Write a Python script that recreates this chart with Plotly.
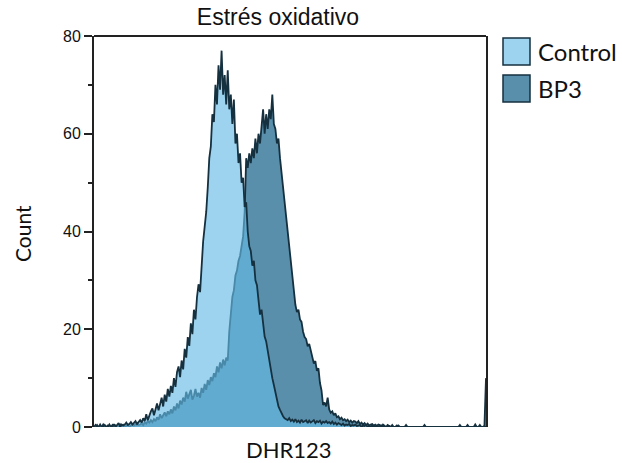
import numpy as np
import plotly.graph_objects as go

# Fluorescence channel histogram counts (256 channels), DHR123
control_counts = [
    0, 0.4, 0, 0, 0.5, 0, 0, 0.4, 0, 0,
    0.5, 0, 0, 0.6, 0, 0.4, 0.8, 0, 0.5, 0.3,
    0.5, 0.9, 0.4, 0.6, 1.0, 0.5, 0.8, 1.2, 0.6, 1.0,
    1.4, 0.9, 1.8, 1.2, 2.6, 1.4, 2.4, 3.2, 3.8, 2.4,
    3.6, 4.8, 3.4, 4.8, 6.0, 4.2, 6.6, 5.2, 7.8, 6.2,
    8.4, 7.0, 10.0, 8.2, 11.2, 12.4, 10.2, 13.6, 11.8, 16.0,
    14.2, 18.4, 16.6, 21.2, 19.0, 24.0, 22.0, 26.6, 29.2, 27.6,
    34.0, 38.0, 41.0, 44.0, 49.0, 55.0, 57.4, 64.0, 62.4, 70.0,
    66.0, 74.0, 69.0, 77.0, 68.0, 72.0, 66.0, 73.0, 65.0, 68.0,
    62.0, 67.0, 58.0, 60.0, 54.0, 56.0, 50.0, 51.0, 45.0, 46.0,
    40.0, 37.0, 36.0, 33.0, 34.0, 30.0, 29.0, 26.0, 23.0, 24.0,
    21.0, 18.5, 17.5, 15.5, 13.5, 12.0, 10.0, 8.6, 7.0, 5.4,
    4.2, 3.5, 2.8, 2.2, 1.8, 1.6, 1.4, 1.8, 1.2, 1.5,
    1.1, 1.6, 1.0, 1.3, 0.9, 1.5, 1.0, 1.2, 1.4, 0.8,
    1.3, 0.9, 1.1, 1.4, 0.8, 1.2, 1.0, 1.3, 0.7, 1.1,
    0.9, 1.2, 0.8, 1.0, 0.7, 1.1, 0.6, 0.9, 0.5, 0.8,
    0.6, 0.4, 0.7, 0.3, 0.5, 0.4, 0.6, 0.2, 0.4, 0.3,
    0.5, 0.2, 0.3, 0.4, 0, 0.3, 0.2, 0.4, 0, 0.2,
    0, 0.3, 0, 0, 0.2, 0, 0, 0.3, 0, 0,
    0, 0, 0.2, 0, 0, 0, 0, 0, 0.3, 0,
    0, 0, 0, 0, 0, 0, 0, 0, 0, 0,
    0, 0, 0, 0, 0, 0, 0, 0, 0, 0,
    0, 0, 0, 0, 0, 0, 0, 0, 0, 0,
    0, 0, 0, 0, 0, 0, 0, 0, 0, 0,
    0, 0, 0, 0, 0, 0, 0, 0, 0, 0,
    0, 0, 0, 0, 0, 0,
]

bp3_counts = [
    0, 0, 0.4, 0, 0, 0, 0.5, 0, 0, 0.3,
    0, 0, 0.4, 0, 0.3, 0, 0, 0.5, 0, 0.4,
    0, 0.3, 0.5, 0, 0.4, 0.6, 0.3, 0.5, 0.8, 0.4,
    0.5, 0.8, 0.4, 1.0, 0.7, 1.2, 0.9, 1.4, 1.0, 1.6,
    1.2, 2.0, 1.5, 2.6, 1.8, 2.4, 3.0, 2.2, 3.2, 2.6,
    3.6, 2.8, 4.2, 3.4, 4.8, 3.8, 5.4, 4.6, 6.0, 5.2,
    7.2, 5.8, 6.8, 7.6, 5.6, 6.4, 7.8, 6.2, 7.0, 6.0,
    8.0, 7.0, 8.8, 7.6, 9.6, 8.6, 10.2, 9.4, 11.0, 10.2,
    12.4, 11.2, 13.2, 12.0, 13.8, 12.6, 14.2, 13.6, 19.6, 24.0,
    26.6, 28.0, 31.0, 32.0, 34.0, 35.0, 37.0, 39.0, 44.0, 55.0,
    53.0, 56.0, 54.0, 57.0, 55.0, 59.0, 56.0, 60.0, 58.0, 62.0,
    65.0, 60.0, 64.0, 61.0, 65.0, 63.0, 68.0, 62.0, 61.0, 58.0,
    59.0, 55.0, 52.0, 48.0, 46.0, 43.0, 40.0, 37.0, 34.0, 31.0,
    27.0, 25.0, 23.5, 24.0, 22.0, 21.5, 19.5, 18.4, 18.0, 16.5,
    17.0, 15.5, 14.5, 13.0, 13.5, 11.5, 12.0, 9.0, 7.5, 4.5,
    5.0, 4.2, 6.0, 3.6, 2.9, 3.2, 2.4, 2.8, 2.0, 2.2,
    1.6, 1.9, 1.4, 1.6, 1.2, 1.5, 1.0, 1.3, 0.9, 1.2,
    1.1, 0.8, 1.2, 0.6, 0.9, 0.5, 0.8, 0.4, 0.7, 0.3,
    0.5, 0.6, 0.3, 0.5, 0.2, 0.5, 0.4, 0, 0.5, 0.3,
    0, 0.4, 0.2, 0, 0.4, 0, 0, 0.3, 0, 0,
    0, 0, 0, 0.4, 0, 0, 0, 0, 0, 0,
    0, 0, 0, 0, 0, 0.4, 0, 0, 0, 0,
    0, 0, 0, 0, 0, 0, 0, 0, 0, 0,
    0, 0, 0, 0, 0, 0, 0, 0, 0.4, 0,
    0, 0, 0, 0.4, 0, 0, 0, 0, 0.5, 0,
    0, 0.4, 0, 0, 0.3, 10,
]

series_names = ["Control", "BP3"]
y_ticks = [0, 20, 40, 60, 80]

channels = np.arange(len(control_counts))

OUTLINE = "#15303f"
CONTROL_FILL = "rgba(102,186,228,0.64)"
CONTROL_SWATCH = "rgb(157,211,238)"
BP3_FILL = "rgb(90,143,171)"
AXIS = "#222222"

fig = go.Figure()

# BP3 underneath, Control drawn translucent on top
fig.add_trace(go.Scatter(
    x=channels, y=bp3_counts, mode="lines", fill="tozeroy",
    fillcolor=BP3_FILL, line=dict(color=OUTLINE, width=1.8),
    name=series_names[1], showlegend=False, hoverinfo="skip",
))
fig.add_trace(go.Scatter(
    x=channels, y=control_counts, mode="lines", fill="tozeroy",
    fillcolor=CONTROL_FILL, line=dict(color=OUTLINE, width=1.8),
    name=series_names[0], showlegend=False, hoverinfo="skip",
))

# Plot area geometry (pixels)
W, H = 622, 463
L, R, T, B = 94, 486, 36, 427


def px_x(p):
    return (p - L) / (R - L)


def px_y(p):
    return (B - p) / (B - T)


shapes = [
    # top border of the frame
    dict(type="line", xref="paper", yref="paper", x0=0, x1=1, y0=1, y1=1,
         line=dict(color=AXIS, width=2)),
]

# Legend swatches
legend_rows = [
    (series_names[0], CONTROL_SWATCH, 38, 65),
    (series_names[1], BP3_FILL, 75, 102),
]
annotations = []
for name, color, top, bottom in legend_rows:
    shapes.append(dict(
        type="rect", xref="paper", yref="paper",
        x0=px_x(503), x1=px_x(530), y0=px_y(bottom), y1=px_y(top),
        fillcolor=color, line=dict(color=OUTLINE, width=1.5),
    ))
    annotations.append(dict(
        text=name, xref="paper", yref="paper",
        x=px_x(536), y=px_y((top + bottom) / 2),
        xanchor="left", yanchor="middle", showarrow=False,
        font=dict(family="Lato", size=24, color="#111111"),
    ))

# Axis titles
annotations.append(dict(
    text="Count", xref="paper", yref="paper",
    x=px_x(22), y=px_y(234), textangle=-90,
    xanchor="center", yanchor="middle", showarrow=False,
    font=dict(family="Lato", size=21, color="#111111"),
))
annotations.append(dict(
    text="DHR123", xref="paper", yref="paper",
    x=px_x(289), y=px_y(449),
    xanchor="center", yanchor="middle", showarrow=False,
    font=dict(family="Lato", size=22, color="#111111"),
))

fig.update_layout(
    width=W, height=H,
    margin=dict(l=L, r=W - R, t=T, b=H - B, pad=0),
    paper_bgcolor="white", plot_bgcolor="white",
    title=dict(
        text="Estrés oxidativo", x=278 / W, xref="container", xanchor="center",
        y=1 - 17 / H, yref="container", yanchor="middle",
        font=dict(family="Liberation Sans", size=23, color="#111111"),
    ),
    shapes=shapes,
    annotations=annotations,
    showlegend=False,
)

fig.update_xaxes(
    range=[0, len(control_counts) - 1],
    showticklabels=False, ticks="", showgrid=False, zeroline=False,
    showline=False,
)
fig.update_yaxes(
    range=[0, 80], tickvals=y_ticks, ticks="outside", ticklen=8, tickwidth=1.5,
    tickcolor=AXIS, showline=True, linecolor=AXIS, linewidth=2, mirror=True,
    showgrid=False, zeroline=False,
    tickfont=dict(family="Liberation Sans", size=16, color="#111111"),
    minor=dict(dtick=10, ticks="outside", ticklen=4, tickwidth=1.5, tickcolor=AXIS,
               showgrid=False),
)

fig.write_html("out.html")
